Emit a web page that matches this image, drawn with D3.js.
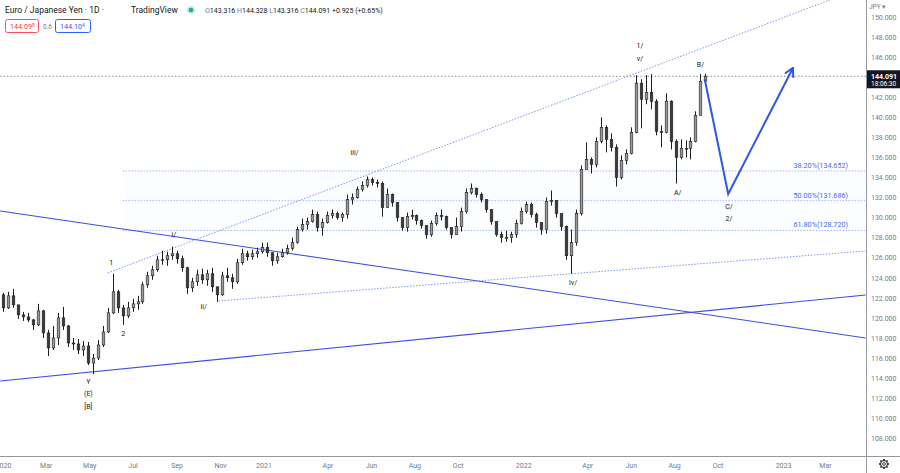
<!DOCTYPE html>
<html><head><meta charset="utf-8">
<script src="https://cdn.jsdelivr.net/npm/d3@7"></script>
<style>
body{margin:0;background:#fff;}
svg{display:block;font-family:Roboto,"Liberation Sans",sans-serif;}
</style></head>
<body><svg id="c" width="900" height="473"></svg>
<script>
// ---------- DATA ----------
const weekStart = "2019-12-30";
const firstOpen = 122.3;
const weeklyClose = [121.0,122.2,121.3,120.3,120.1,119.8,119.3,120.7,118.5,117.0,
118.0,120.0,119.2,117.5,117.4,116.8,117.2,115.5,116.0,117.3,
118.6,120.5,122.6,121.0,120.2,121.0,121.4,121.6,123.3,124.2,
124.8,125.8,125.8,126.2,126.4,125.9,125.0,123.0,123.6,124.3,
123.8,124.4,123.1,122.3,124.2,124.0,123.6,125.5,126.4,126.1,
126.4,126.6,127.0,126.5,125.7,126.1,126.5,126.9,127.5,128.8,
129.3,129.6,130.3,129.0,129.5,130.2,130.4,130.0,130.3,131.8,
132.0,132.8,133.2,133.8,133.5,133.4,131.0,132.3,131.5,130.0,
129.0,130.1,130.2,129.7,129.2,128.3,129.4,130.2,130.1,129.0,
128.3,129.1,130.6,132.5,132.9,132.3,131.8,130.8,129.6,128.3,
128.0,128.0,128.3,129.4,130.6,131.3,130.3,129.5,128.8,131.6,
131.7,130.4,129.1,126.2,127.5,130.4,134.8,135.8,135.3,137.6,
139.0,137.8,137.0,134.0,135.7,136.4,138.5,143.4,141.8,142.5,
141.6,138.6,138.5,141.6,137.6,136.0,136.9,136.9,137.6,140.2,
143.6,144.091];
const weeklyHigh = [122.5,122.6,122.9,121.2,120.6,120.5,119.9,121.4,120.8,118.8,
119.2,120.5,121.1,119.3,118.0,117.9,117.7,117.6,116.4,117.8,
119.2,121.0,124.4,122.8,121.3,121.6,121.9,122.2,123.6,124.6,
125.2,126.2,126.7,126.6,127.1,126.7,126.2,125.1,124.0,124.8,
124.9,124.8,125.0,122.9,124.6,125.0,124.4,125.9,126.9,126.7,
126.8,127.0,127.5,127.5,126.5,126.5,126.9,127.3,128.0,129.1,
129.9,130.0,130.8,130.6,129.9,130.6,130.8,130.6,130.5,132.3,
132.4,133.1,133.6,134.1,134.0,133.8,133.6,132.9,132.4,131.5,
130.0,130.5,130.8,130.3,129.8,129.2,129.7,130.5,130.8,130.2,
129.0,130.0,131.0,132.9,133.4,133.0,132.5,131.8,130.8,129.6,
128.6,128.7,128.6,129.8,131.0,131.6,131.5,130.5,129.5,132.0,
132.7,131.6,130.4,129.2,128.8,130.8,135.2,137.5,136.0,138.0,
140.0,139.2,138.4,137.3,136.2,136.8,139.0,144.2,143.8,144.2,
144.3,141.8,139.2,142.4,141.7,137.8,137.8,137.7,138.0,140.6,
144.3,144.328];
const weeklyLow = [120.6,120.9,121.0,119.9,119.7,119.6,118.8,119.2,118.0,116.2,
116.8,117.3,118.8,117.1,116.8,116.4,116.2,115.3,114.4,115.8,
117.1,118.5,120.4,120.5,119.3,120.0,120.6,120.8,121.4,123.0,
123.8,124.6,125.3,125.2,125.8,125.4,124.6,122.4,122.6,123.2,
123.4,123.2,122.6,121.6,122.2,123.6,122.9,123.4,125.3,125.7,
125.8,126.0,126.4,126.1,125.2,125.4,126.0,126.3,126.7,127.4,
128.6,128.8,129.5,128.6,128.2,129.4,129.9,129.8,129.6,129.9,
131.3,131.9,132.6,133.0,133.2,133.0,130.1,131.0,131.1,129.6,
128.7,128.6,129.8,129.3,128.9,127.9,128.1,129.2,129.7,128.8,
127.9,128.4,128.6,130.4,132.3,132.0,131.5,130.5,129.3,128.1,
127.5,127.6,127.5,128.0,129.3,130.4,130.0,129.0,128.3,128.4,
131.2,130.0,128.7,125.8,124.4,127.2,130.2,134.8,134.4,135.0,
137.4,136.5,136.6,133.1,133.8,135.3,136.3,138.4,138.9,141.3,
140.8,138.2,137.0,138.4,136.8,133.4,135.8,136.0,135.8,137.5,
140.2,143.2];

const timeTickDates = ["2020-01-01","2020-03-01","2020-05-01","2020-07-01","2020-09-01","2020-11-01",
  "2021-01-01","2021-04-01","2021-06-01","2021-08-01","2021-10-01",
  "2022-01-01","2022-04-01","2022-06-01","2022-08-01","2022-10-01","2023-01-01","2023-03-01"];
const timeTickLabels = ["2020","Mar","May","Jul","Sep","Nov","2021","Apr","Jun","Aug","Oct",
  "2022","Apr","Jun","Aug","Oct","2023","Mar"];
const priceTicks = [108,110,112,114,116,118,120,122,124,126,128,130,132,134,136,138,140,142,144,146,148,150];

const lastPrice = 144.091;
const fibStartDate = "2020-06-17";
const fibValues = [134.652, 131.686, 128.720];
const fibLabels = ["38.20%(134.652)", "50.00%(131.686)", "61.80%(128.720)"];

const descLine = [["2019-12-28",130.66],["2023-04-27",118.0]];
const ascLine = [["2019-12-28",113.71],["2023-04-27",122.28]];
const upperChannel = [["2020-05-27",124.48],["2023-03-08",151.7]];
const lowerChannel = [["2020-10-30",121.69],["2023-04-27",126.67]];
const projection = [["2022-09-13",143.8],["2022-10-16",132.35],["2023-01-15",144.92]];

const waveLabels = [
  ["Y","2020-04-30",113.61],["(E)","2020-04-30",112.41],["[B]","2020-04-30",111.12],
  ["1","2020-06-01",125.47],["2","2020-06-18",118.39],
  ["i/","2020-08-28",128.27],["ii/","2020-10-09",121.09],
  ["iii/","2021-05-09",136.44],["iv/","2022-03-12",123.48],
  ["1/","2022-06-14",147.11],["v/","2022-06-14",145.81],
  ["A/","2022-08-06",132.45],["B/","2022-09-07",145.21],
  ["C/","2022-10-17",131.06],["2/","2022-10-17",129.86]
];

// ---------- CHART ----------
const W = 900, H = 473, plotR = 866, plotB = 456;
const svg = d3.select("#c");
const pd = d3.utcParse("%Y-%m-%d");
const x = d3.scaleUtc().domain([pd("2020-01-01"), pd("2023-01-01")]).range([3, 783]);
const y = d3.scaleLinear().domain([108, 150]).range([438.26, 17]);

svg.append("defs").append("clipPath").attr("id","plot")
  .append("rect").attr("x",0).attr("y",0).attr("width",plotR).attr("height",plotB);
const g = svg.append("g").attr("clip-path","url(#plot)");

// fib levels
const fibX0 = x(pd(fibStartDate));
g.append("rect").attr("x",fibX0).attr("y",y(fibValues[0])).attr("width",plotR-fibX0)
  .attr("height",y(fibValues[2])-y(fibValues[0])).attr("fill","#2962ff").attr("opacity",0.012);
fibValues.forEach((v,i)=>{
  g.append("line").attr("x1",fibX0).attr("x2",plotR).attr("y1",y(v)).attr("y2",y(v))
    .attr("stroke","#8aa4f2").attr("stroke-width",0.8).attr("stroke-dasharray","1.5,1.5");
  g.append("text").attr("x",848).attr("y",y(v)-3).attr("text-anchor","end")
    .attr("font-size",7.2).attr("fill","#3b6ef0").text(fibLabels[i]);
});

// last price line
g.append("line").attr("x1",0).attr("x2",plotR).attr("y1",y(lastPrice)).attr("y2",y(lastPrice))
  .attr("stroke","#6a6d78").attr("stroke-width",0.8).attr("stroke-dasharray","1.5,2");

const lineGen = d3.line().x(d=>x(pd(d[0]))).y(d=>y(d[1]));
// trend lines
g.append("path").attr("d",lineGen(descLine)).attr("fill","none").attr("stroke","#3d4de6").attr("stroke-width",1.1);
g.append("path").attr("d",lineGen(ascLine)).attr("fill","none").attr("stroke","#3d4de6").attr("stroke-width",1.1);
g.append("path").attr("d",lineGen(upperChannel)).attr("fill","none").attr("stroke","#5b7cf0").attr("stroke-width",0.8).attr("stroke-dasharray","1.5,1.5");
g.append("path").attr("d",lineGen(lowerChannel)).attr("fill","none").attr("stroke","#5b7cf0").attr("stroke-width",0.8).attr("stroke-dasharray","1.5,1.5");

// candles
const bars = weeklyClose.map((c,i)=>{
  const d = d3.utcDay.offset(pd(weekStart), 7*i + 2);
  const o = i===0 ? firstOpen : weeklyClose[i-1];
  return {d, o, c, h: Math.max(weeklyHigh[i], o, c), l: Math.min(weeklyLow[i], o, c)};
});
const cg = g.append("g");
bars.forEach(b=>{
  const cx = Math.round(x(b.d)) + 0.5;
  cg.append("line").attr("x1",cx).attr("x2",cx).attr("y1",y(b.h)).attr("y2",y(b.l))
    .attr("stroke","#1e1e1e").attr("stroke-width",1);
  const top = y(Math.max(b.o,b.c)), bot = y(Math.min(b.o,b.c));
  cg.append("rect").attr("x",cx-1.3).attr("y",top).attr("width",2.6).attr("height",Math.max(0.8,bot-top))
    .attr("fill", b.c>=b.o ? "#9a9a9a" : "#3a3a3a").attr("stroke","#1e1e1e").attr("stroke-width",0.6);
});

// projection
g.append("path").attr("d",lineGen(projection)).attr("fill","none").attr("stroke","#2f57e3")
  .attr("stroke-width",2).attr("stroke-linejoin","miter");
{
  const p1 = projection[projection.length-2], p2 = projection[projection.length-1];
  const ax = x(pd(p2[0])), ay = y(p2[1]);
  const bx = x(pd(p1[0])), by = y(p1[1]);
  const ang = Math.atan2(by-ay, bx-ax);
  const L = 9, spread = 0.5;
  [ang-spread, ang+spread].forEach(a=>{
    g.append("line").attr("x1",ax).attr("y1",ay).attr("x2",ax+L*Math.cos(a)).attr("y2",ay+L*Math.sin(a))
      .attr("stroke","#2f57e3").attr("stroke-width",2).attr("stroke-linecap","round");
  });
}

// wave labels
waveLabels.forEach(l=>{
  g.append("text").attr("x",x(pd(l[1]))).attr("y",y(l[2])).attr("dy","0.35em")
    .attr("text-anchor","middle").attr("font-size",7).attr("fill","#131722").text(l[0]);
});

// ---------- AXES ----------
svg.append("line").attr("x1",plotR+0.5).attr("x2",plotR+0.5).attr("y1",0).attr("y2",H).attr("stroke","#9598a1").attr("stroke-width",1);
svg.append("line").attr("x1",0).attr("x2",W).attr("y1",plotB+0.5).attr("y2",plotB+0.5).attr("stroke","#9598a1").attr("stroke-width",1);

const yAxis = d3.axisRight(y).tickValues(priceTicks).tickSize(0).tickPadding(5).tickFormat(d3.format(".3f"));
const ya = svg.append("g").attr("transform",`translate(${plotR},0)`).call(yAxis);
ya.select(".domain").remove();
ya.selectAll("text").attr("font-size",7).attr("fill","#787b86").attr("font-family","Roboto,sans-serif");

const xAxis = d3.axisBottom(x).tickValues(timeTickDates.map(pd)).tickSize(0).tickPadding(5)
  .tickFormat((d,i)=>timeTickLabels[i]);
const xa = svg.append("g").attr("transform",`translate(0,${plotB+2})`).call(xAxis);
xa.select(".domain").remove();
xa.selectAll("text").attr("font-size",7).attr("fill","#787b86").attr("font-family","Roboto,sans-serif");

svg.append("text").attr("x",869).attr("y",9).attr("font-size",6.5).attr("fill","#787b86").text("JPY ▾");

// last price tag
svg.append("rect").attr("x",plotR+1).attr("y",y(lastPrice)-6).attr("width",W-plotR-1).attr("height",18).attr("fill","#131722");
svg.append("text").attr("x",871).attr("y",y(lastPrice)+2.5).attr("font-size",7).attr("font-weight","bold").attr("fill","#fff").text(lastPrice.toFixed(3));
svg.append("text").attr("x",871).attr("y",y(lastPrice)+10).attr("font-size",6.5).attr("fill","#fff").text("18:06:30");

// gear icon
{
  const gx = 884, gy = 464;
  const gear = svg.append("g").attr("transform",`translate(${gx},${gy})`);
  for(let k=0;k<8;k++){
    const a = k*Math.PI/4;
    gear.append("line").attr("x1",3.2*Math.cos(a)).attr("y1",3.2*Math.sin(a)).attr("x2",5*Math.cos(a)).attr("y2",5*Math.sin(a))
      .attr("stroke","#131722").attr("stroke-width",1.6);
  }
  gear.append("circle").attr("r",3.5).attr("fill","#fff").attr("stroke","#131722").attr("stroke-width",1);
  gear.append("circle").attr("r",1.4).attr("fill","none").attr("stroke","#131722").attr("stroke-width",0.8);
}

// ---------- HEADER ----------
svg.append("text").attr("x",5).attr("y",13).attr("font-size",8.5).attr("fill","#131722").text("Euro / Japanese Yen · 1D ·");
svg.append("text").attr("x",131).attr("y",13).attr("font-size",8.5).attr("fill","#131722").text("TradingView");
svg.append("circle").attr("cx",191).attr("cy",10).attr("r",4).attr("fill","#26a69a").attr("opacity",0.25);
svg.append("circle").attr("cx",191).attr("cy",10).attr("r",2.3).attr("fill","#26a69a");
const ohlc = svg.append("text").attr("x",205).attr("y",13).attr("font-size",7);
[["O","143.316 "],["H","144.328 "],["L","143.316 "],["C","144.091 "],["","+0.925 (+0.65%)"]].forEach(p=>{
  ohlc.append("tspan").attr("fill","#787b86").text(p[0]);
  ohlc.append("tspan").attr("fill","#131722").text(p[1]);
});
svg.append("rect").attr("x",5.5).attr("y",19.5).attr("width",33).attr("height",13).attr("rx",2)
  .attr("fill","#fff").attr("stroke","#f7525f").attr("stroke-width",1);
const t1 = svg.append("text").attr("x",10).attr("y",29).attr("font-size",7.2).attr("fill","#f23645");
t1.append("tspan").text("144.09");
t1.append("tspan").attr("font-size",5).attr("dy",-2).text("8");
svg.append("text").attr("x",43).attr("y",29).attr("font-size",6.5).attr("fill","#787b86").text("0.6");
svg.append("rect").attr("x",55.5).attr("y",19.5).attr("width",35).attr("height",13).attr("rx",2)
  .attr("fill","#fff").attr("stroke","#2962ff").attr("stroke-width",1);
const t2 = svg.append("text").attr("x",60).attr("y",29).attr("font-size",7.2).attr("fill","#2962ff");
t2.append("tspan").text("144.10");
t2.append("tspan").attr("font-size",5).attr("dy",-2).text("4");
</script></body></html>
